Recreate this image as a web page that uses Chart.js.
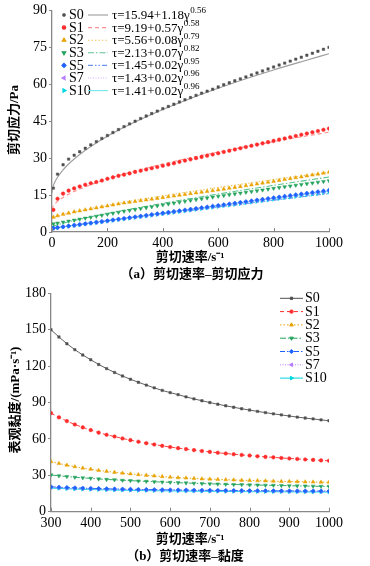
<!DOCTYPE html>
<html><head><meta charset="utf-8">
<script src="https://cdn.jsdelivr.net/npm/chart.js@4/dist/chart.umd.min.js"></script>
<style>
html,body{margin:0;padding:0;background:#fff;width:370px;height:566px;overflow:hidden}
canvas{position:absolute;left:0}
#ca{top:0}#cb{top:283px}
</style></head><body>
<canvas id="ca" width="370" height="283"></canvas>
<canvas id="cb" width="370" height="283"></canvas>
<script>
// ---------- DATA ----------
const seriesNames = ['S0','S1','S2','S3','S5','S7','S10'];
const fitA0 = [15.94, 9.19, 5.56, 2.13, 1.45, 1.43, 1.41];
const fitK  = [1.18, 0.57, 0.08, 0.07, 0.02, 0.02, 0.02];
const fitN  = [0.56, 0.58, 0.79, 0.82, 0.95, 0.96, 0.96];

// (a) shear rate (s^-1) and shear stress (Pa)
const shearRateA = [5,20,40,60,80,100,120,140,160,180,200,220,240,260,280,300,320,340,360,380,400,420,440,460,480,500,520,540,560,580,600,620,640,660,680,700,720,740,760,780,800,820,840,860,880,900,920,940,960,980,1000];
const stressS0 = [17.8,23.5,27.3,29.6,31.2,32.6,34.0,35.4,36.7,38.0,39.2,40.4,41.6,42.8,43.9,45.0,46.1,47.1,48.1,49.1,50.1,51.0,51.9,52.8,53.7,54.6,55.5,56.4,57.2,58.0,58.9,59.8,60.6,61.4,62.2,63.0,63.8,64.6,65.4,66.2,67.0,67.8,68.6,69.4,70.2,71.0,71.8,72.6,73.4,74.2,75.0];
const stressS1 = [9.0,13.5,15.6,16.8,17.7,18.5,19.2,19.8,20.3,20.9,21.6,22.2,22.8,23.3,23.8,24.4,24.9,25.4,25.9,26.4,26.9,27.4,27.9,28.5,29.0,29.5,30.0,30.5,31.0,31.5,32.0,32.5,33.0,33.5,34.0,34.5,35.0,35.5,36.0,36.5,37.0,37.5,38.0,38.5,39.0,39.5,40.0,40.5,41.0,41.5,42.0];
const stressS2 = [6.0,6.6,7.2,7.7,8.2,8.6,9.0,9.4,9.8,10.2,10.6,11.0,11.4,11.8,12.1,12.4,12.72,13.04,13.36,13.68,14.0,14.32,14.64,14.96,15.28,15.6,15.9,16.2,16.5,16.8,17.1,17.44,17.78,18.12,18.46,18.8,19.16,19.52,19.88,20.24,20.6,20.96,21.32,21.68,22.04,22.4,22.78,23.16,23.54,23.92,24.3];
const stressS3 = [3.3,3.6,4.0,4.4,4.8,5.2,5.6,6.0,6.4,6.8,7.2,7.6,8.0,8.4,8.75,9.1,9.48,9.86,10.24,10.62,11.0,11.36,11.72,12.08,12.44,12.8,13.14,13.48,13.82,14.16,14.5,14.82,15.14,15.46,15.78,16.1,16.42,16.74,17.06,17.38,17.7,18.02,18.34,18.66,18.98,19.3,19.6,19.9,20.2,20.5,20.8];
const stressS5 = [1.58,1.81,2.12,2.43,2.74,3.05,3.36,3.67,3.98,4.29,4.60,4.91,5.22,5.53,5.84,6.15,6.46,6.77,7.08,7.39,7.70,8.01,8.32,8.63,8.94,9.25,9.56,9.87,10.18,10.49,10.80,11.11,11.42,11.73,12.04,12.35,12.66,12.97,13.28,13.59,13.90,14.21,14.52,14.83,15.14,15.45,15.76,16.07,16.38,16.69,17.00];
const stressS7 = [1.53,1.75,2.06,2.36,2.67,2.97,3.27,3.58,3.88,4.19,4.49,4.79,5.10,5.40,5.71,6.01,6.31,6.62,6.92,7.23,7.53,7.83,8.14,8.44,8.75,9.05,9.35,9.66,9.96,10.27,10.57,10.87,11.18,11.48,11.79,12.09,12.39,12.70,13.00,13.31,13.61,13.91,14.22,14.52,14.83,15.13,15.43,15.74,16.04,16.35,16.65];
const stressS10 = [1.47,1.70,1.99,2.29,2.58,2.88,3.18,3.47,3.77,4.06,4.36,4.66,4.95,5.25,5.54,5.84,6.14,6.43,6.73,7.02,7.32,7.62,7.91,8.21,8.50,8.80,9.10,9.39,9.69,9.98,10.28,10.58,10.87,11.17,11.46,11.76,12.06,12.35,12.65,12.94,13.24,13.54,13.83,14.13,14.42,14.72,15.02,15.31,15.61,15.90,16.20];

// (a) fitted curves
const shearRateFit = [0,1,5,10,20,40,60,80,100,140,200,260,300,400,500,600,700,800,900,1000];
const fitS0 = [15.94,17.12,18.85,20.23,22.25,25.25,27.62,29.66,31.49,34.73,38.87,42.50,44.72,49.75,54.24,58.36,62.22,65.81,69.16,72.40];
const fitS1 = [9.19,9.76,10.64,11.36,12.43,14.04,15.32,16.43,17.43,19.20,21.51,23.53,24.77,27.60,30.15,32.47,34.67,36.72,38.65,40.53];
const fitS2 = [5.56,5.64,5.85,6.05,6.41,7.03,7.59,8.11,8.60,9.53,10.82,12.03,12.81,14.65,16.41,18.10,19.70,21.29,22.82,24.31];
const fitS3 = [2.13,2.20,2.39,2.59,2.95,3.57,4.14,4.67,5.18,6.16,7.52,8.82,9.65,11.65,13.57,15.42,17.20,18.95,20.65,22.33];
const fitS5 = [1.45,1.47,1.54,1.63,1.79,2.12,2.43,2.74,3.04,3.64,4.52,5.39,5.96,7.37,8.78,10.17,11.53,12.91,14.26,15.61];
const fitS7 = [1.43,1.45,1.52,1.61,1.78,2.12,2.45,2.77,3.09,3.73,4.66,5.60,6.21,7.72,9.24,10.72,12.20,13.68,15.14,16.61];
const fitS10 = [1.41,1.43,1.50,1.59,1.76,2.10,2.43,2.75,3.07,3.71,4.64,5.58,6.19,7.70,9.22,10.70,12.18,13.66,15.12,16.59];

// (b) shear rate and apparent viscosity (mPa·s)
const shearRateB = [300,320,340,360,380,400,420,440,460,480,500,520,540,560,580,600,620,640,660,680,700,720,740,760,780,800,820,840,860,880,900,920,940,960,980,1000];
const viscS0 = [150.0,144.1,138.5,133.6,129.2,125.3,121.4,118.0,114.8,111.9,109.2,106.7,104.4,102.1,100.0,98.2,96.5,94.7,93.0,91.5,90.0,88.6,87.3,86.1,84.9,83.8,82.7,81.7,80.7,79.8,78.9,78.0,77.2,76.5,75.7,75.0];
const viscS1 = [81.3,77.8,74.7,71.9,69.5,67.3,65.2,63.4,62.0,60.4,59.0,57.7,56.5,55.4,54.3,53.3,52.4,51.6,50.8,50.0,49.3,48.6,48.0,47.4,46.8,46.3,45.7,45.2,44.8,44.3,43.9,43.5,43.1,42.7,42.3,42.0];
const viscS2 = [41.3,39.75,38.35,37.1,36.0,35.0,34.1,33.3,32.5,31.8,31.2,30.6,30.0,29.5,29.0,28.5,28.1,27.8,27.5,27.1,26.9,26.6,26.4,26.2,25.9,25.75,25.6,25.4,25.2,25.0,24.9,24.8,24.6,24.5,24.4,24.3];
const viscS3 = [30.3,29.6,29.0,28.4,27.9,27.5,27.0,26.6,26.3,25.9,25.6,25.3,25.0,24.7,24.4,24.2,23.9,23.7,23.4,23.2,23.0,22.8,22.6,22.4,22.3,22.1,22.0,21.8,21.7,21.6,21.4,21.3,21.2,21.0,20.9,20.8];
const viscS5 = [20.5,20.19,19.91,19.67,19.45,19.25,19.07,18.91,18.76,18.63,18.5,18.38,18.28,18.18,18.09,18.0,17.92,17.84,17.77,17.71,17.64,17.58,17.53,17.47,17.42,17.38,17.33,17.29,17.24,17.2,17.17,17.13,17.1,17.06,17.03,17.0];
const viscS7 = [20.03,19.73,19.46,19.23,19.02,18.83,18.65,18.5,18.35,18.22,18.1,17.99,17.89,17.79,17.7,17.62,17.54,17.47,17.4,17.33,17.27,17.21,17.16,17.11,17.06,17.01,16.97,16.93,16.89,16.85,16.81,16.78,16.74,16.71,16.68,16.65];
const viscS10 = [19.47,19.18,18.92,18.69,18.48,18.3,18.13,17.98,17.84,17.72,17.6,17.49,17.39,17.3,17.21,17.13,17.06,16.99,16.92,16.86,16.8,16.74,16.69,16.64,16.59,16.55,16.51,16.47,16.43,16.39,16.36,16.32,16.29,16.26,16.23,16.2];

// ---------- STYLE ----------
const SERIF = '"Liberation Serif", "DejaVu Serif", "Noto Serif", serif';
const CJK = '"Liberation Serif", "Noto Sans CJK SC", sans-serif';
const colors = ['#4f4f4f','#ff2b2b','#e8a200','#25a35c','#1f63ff','#b97eff','#00d6e2'];
const fitColors = ['#9c9c9c','#ff8f8f','#f0c562','#5ec48e','#6d95f3','#d8acff','#72e6ea'];
const pStyles = ['rect','circle','triangle','triangle','rectRot','triangle','triangle'];
const pRot = [0,0,0,180,0,-90,90];
const pRad = [1.7,1.8,2.2,2.2,2.2,2.2,2.2];
const legRad = [1.6,1.7,2.1,2.1,2.1,2.1,2.1];
const dashes = [[],[4,3],[1.5,2],[6,2,1.5,2],[5,2,1.5,2,1.5,2],[1,1.5],[]];

const stressA = [stressS0,stressS1,stressS2,stressS3,stressS5,stressS7,stressS10];
const fitAll = [fitS0,fitS1,fitS2,fitS3,fitS5,fitS7,fitS10];
const viscB = [viscS0,viscS1,viscS2,viscS3,viscS5,viscS7,viscS10];
const pts = (xs, ys) => xs.map((x, i) => ({x, y: ys[i]}));

Chart.defaults.font.family = SERIF;
Chart.defaults.color = '#000';

function axisPlugin(cfg){
  return {
    id: 'deco',
    afterDraw(chart){
      const ctx = chart.ctx, ca = chart.chartArea, xs = chart.scales.x;
      ctx.save();
      ctx.strokeStyle = '#888'; ctx.lineWidth = 1;
      xs.ticks.forEach(t => {
        const px = Math.round(xs.getPixelForValue(t.value)) + 0.5;
        ctx.beginPath(); ctx.moveTo(px, ca.bottom); ctx.lineTo(px, ca.bottom - 4); ctx.stroke();
      });
      ctx.fillStyle = '#000';
      ctx.textAlign = 'center'; ctx.textBaseline = 'middle';
      ctx.font = 'bold 13px ' + CJK;
      ctx.fillText(cfg.xTitle, cfg.xTitleX, cfg.xTitleY);
      ctx.fillText(cfg.caption, cfg.capX, cfg.capY);
      ctx.translate(cfg.yTitleX, cfg.yTitleY);
      ctx.rotate(-Math.PI/2);
      ctx.fillText(cfg.yTitle, 0, 0);
      ctx.restore();
    }
  };
}

const legendA = {
  id: 'legendA',
  afterDraw(chart){
    const ctx = chart.ctx;
    ctx.save();
    seriesNames.forEach((name, i) => {
      const y = 15 + 12.6*i;
      ctx.fillStyle = colors[i]; ctx.strokeStyle = colors[i];
      Chart.helpers.drawPoint(ctx, {pointStyle: pStyles[i], rotation: pRot[i], radius: legRad[i], borderWidth: 1}, 64, y);
      ctx.fillStyle = '#000';
      ctx.textAlign = 'left'; ctx.textBaseline = 'middle';
      ctx.font = '14px ' + SERIF;
      ctx.fillText(name, 69, y + 0.5);
      ctx.strokeStyle = fitColors[i]; ctx.lineWidth = 1.1;
      ctx.setLineDash(dashes[i]);
      ctx.beginPath(); ctx.moveTo(88, y); ctx.lineTo(108, y); ctx.stroke();
      ctx.setLineDash([]);
      const base = 'τ=' + fitA0[i].toFixed(2) + '+' + fitK[i].toFixed(2) + 'γ';
      ctx.font = '13px ' + SERIF;
      ctx.fillText(base, 112, y + 0.5);
      const w = ctx.measureText(base).width;
      ctx.font = '9px ' + SERIF;
      ctx.fillText(fitN[i].toFixed(2), 112 + w + 0.5, y - 4);
    });
    ctx.restore();
  }
};

const legendB = {
  id: 'legendB',
  afterDraw(chart){
    const ctx = chart.ctx;
    ctx.save();
    seriesNames.forEach((name, i) => {
      const y = 15.3 + 13.3*i;
      ctx.strokeStyle = colors[i]; ctx.lineWidth = 1;
      ctx.setLineDash(dashes[i]);
      ctx.beginPath(); ctx.moveTo(280, y); ctx.lineTo(303, y); ctx.stroke();
      ctx.setLineDash([]);
      ctx.fillStyle = colors[i];
      Chart.helpers.drawPoint(ctx, {pointStyle: pStyles[i], rotation: pRot[i], radius: legRad[i], borderWidth: 1}, 291.5, y);
      ctx.fillStyle = '#000';
      ctx.textAlign = 'left'; ctx.textBaseline = 'middle';
      ctx.font = '14px ' + SERIF;
      ctx.fillText(name, 305, y + 0.5);
    });
    ctx.restore();
  }
};

function scales(xmin, xmax, xstep, ymin, ymax, ystep, yw, xh){
  return {
    x: {type: 'linear', min: xmin, max: xmax,
        ticks: {stepSize: xstep, font: {size: 14, family: SERIF}, color: '#000', padding: 3, maxRotation: 0,
                callback: v => String(v)},
        grid: {drawOnChartArea: false, drawTicks: false, color: '#888'},
        border: {color: '#888', width: 1.3},
        afterFit(s){ s.height = xh; }},
    y: {type: 'linear', min: ymin, max: ymax,
        ticks: {stepSize: ystep, font: {size: 14, family: SERIF}, color: '#000', padding: 2,
                callback: v => String(v)},
        grid: {drawOnChartArea: false, drawTicks: true, tickLength: 3, color: '#888'},
        border: {color: '#888', width: 1.3},
        afterFit(s){ s.width = yw; }}
  };
}

// ---------- CHART (a) ----------
const dsA = [];
seriesNames.forEach((n, i) => {
  dsA.push({label: n, data: pts(shearRateA, stressA[i]), showLine: false,
    pointStyle: pStyles[i], rotation: pRot[i], pointRadius: pRad[i],
    backgroundColor: colors[i], borderColor: colors[i], pointBorderWidth: 0.5});
});
seriesNames.forEach((n, i) => {
  dsA.push({label: n + ' fit', data: pts(shearRateFit, fitAll[i]), showLine: true,
    pointRadius: 0, borderColor: fitColors[i], borderWidth: 1.1, borderDash: dashes[i],
    cubicInterpolationMode: 'monotone', fill: false});
});
new Chart(document.getElementById('ca'), {
  type: 'scatter',
  data: {datasets: dsA},
  options: {
    responsive: false, animation: false, devicePixelRatio: 1, events: [],
    layout: {padding: {left: 0, right: 41, top: 9, bottom: 0}},
    plugins: {legend: {display: false}, tooltip: {enabled: false}},
    scales: scales(0, 1000, 200, 0, 90, 15, 52, 51)
  },
  plugins: [axisPlugin({xTitle: '剪切速率/s⁻¹', xTitleX: 190, xTitleY: 258,
    caption: '（a）剪切速率–剪切应力', capX: 192, capY: 275,
    yTitle: '剪切应力/Pa', yTitleX: 15, yTitleY: 120}), legendA]
});

// ---------- CHART (b) ----------
const dsB = [];
seriesNames.forEach((n, i) => {
  dsB.push({label: n, data: pts(shearRateB, viscB[i]), showLine: true,
    pointStyle: pStyles[i], rotation: pRot[i], pointRadius: pRad[i],
    backgroundColor: colors[i], borderColor: colors[i], pointBorderWidth: 0.5,
    borderWidth: 0.9, borderDash: dashes[i], fill: false});
});
new Chart(document.getElementById('cb'), {
  type: 'scatter',
  data: {datasets: dsB},
  options: {
    responsive: false, animation: false, devicePixelRatio: 1, events: [],
    layout: {padding: {left: 0, right: 41, top: 6.3, bottom: 0}},
    plugins: {legend: {display: false}, tooltip: {enabled: false}},
    scales: scales(300, 1000, 100, 0, 180, 30, 51, 54.3)
  },
  plugins: [axisPlugin({xTitle: '剪切速率/s⁻¹', xTitleX: 190, xTitleY: 257,
    caption: '（b）剪切速率–黏度', capX: 185, capY: 274,
    yTitle: '表观黏度/(mPa·s⁻¹)', yTitleX: 16, yTitleY: 117}), legendB]
});
</script>
</body></html>
